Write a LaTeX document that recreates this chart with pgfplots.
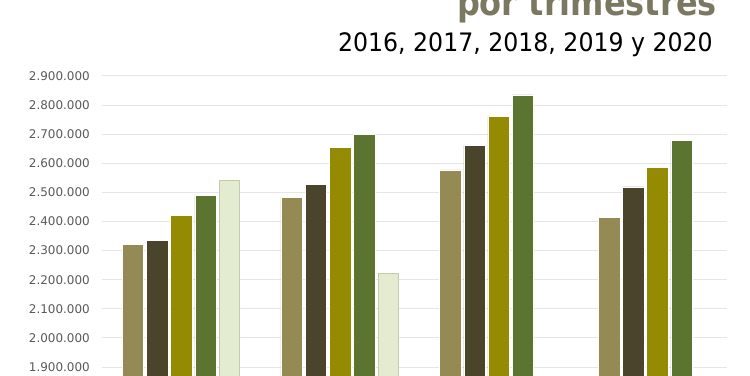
\documentclass[border=0pt]{standalone}
\usepackage{fontspec}
\setmainfont{DejaVu Sans}
\newfontfamily\tahoma[FakeStretch=0.88]{DejaVu Sans}
\newfontfamily\tahomasub[FakeStretch=0.93]{DejaVu Sans}
\usepackage{pgfplots}
\pgfplotsset{compat=1.18}
\definecolor{cA}{HTML}{948A54}
\definecolor{cB}{HTML}{4A452A}
\definecolor{cC}{HTML}{958B03}
\definecolor{cD}{HTML}{5B7531}
\definecolor{cE}{HTML}{E3EBD0}
\definecolor{cEb}{HTML}{C3CBA8}
\definecolor{titlec}{HTML}{7B7862}
\definecolor{tickc}{HTML}{595959}
\definecolor{gridc}{HTML}{E6E6E6}
\begin{document}
\begin{tikzpicture}[x=1bp,y=1bp]
\clip (0,0) rectangle (750,375);
\node[anchor=base east, inner sep=0pt, text=titlec, font=\tahoma\bfseries\fontsize{36.5}{40}\selectfont] at (717,360) {por trimestres};
\node[anchor=base east, inner sep=0pt, font=\tahomasub\fontsize{25.5}{30}\selectfont] at (713,323.3) {2016, 2017, 2018, 2019 y 2020};
\begin{axis}[
  at={(102bp,-6.55bp)}, anchor=south west,
  scale only axis, width=625bp, height=305.55bp,
  xmin=-0.4997, xmax=3.4386,
  ymin=1850000, ymax=2900000,
  ytick={1900000,2000000,2100000,2200000,2300000,2400000,2500000,2600000,2700000,2800000,2900000},
  xtick=\empty,
  ymajorgrids,
  grid style={color=gridc, line width=1bp},
  axis line style={draw=none},
  major tick length=0pt,
  scaled y ticks=false,
  yticklabel style={font=\fontsize{12}{14}\selectfont, text=tickc, anchor=east, inner sep=0pt, xshift=-12bp},
  /pgf/number format/fixed,
  /pgf/number format/precision=0,
  /pgf/number format/1000 sep={.},
  /pgf/number format/assume math mode=true,
  ybar,
  bar width=0.1355,
]
\addplot[ybar, bar shift=0pt, bar width=0.1355, fill=cA, draw=white, line width=0.5bp] coordinates {(-0.305,2322000) (0.695,2483000) (1.695,2577000) (2.695,2414000)};
\addplot[ybar, bar shift=0pt, bar width=0.1355, fill=cB, draw=white, line width=0.5bp] coordinates {(-0.1525,2335000) (0.8475,2528000) (1.8475,2662000) (2.8475,2519000)};
\addplot[ybar, bar shift=0pt, bar width=0.1355, fill=cC, draw=white, line width=0.5bp] coordinates {(0,2421000) (1,2656000) (2,2760000) (3,2585000)};
\addplot[ybar, bar shift=0pt, bar width=0.1355, fill=cD, draw=white, line width=0.5bp] coordinates {(0.1525,2489000) (1.1525,2700000) (2.1525,2835000) (3.1525,2678000)};
\addplot[ybar, bar shift=0pt, bar width=0.1255, fill=cE, draw=cEb, line width=1.2bp] coordinates {(0.305,2540000) (1.305,2222000)};
\end{axis}
\end{tikzpicture}
\end{document}
